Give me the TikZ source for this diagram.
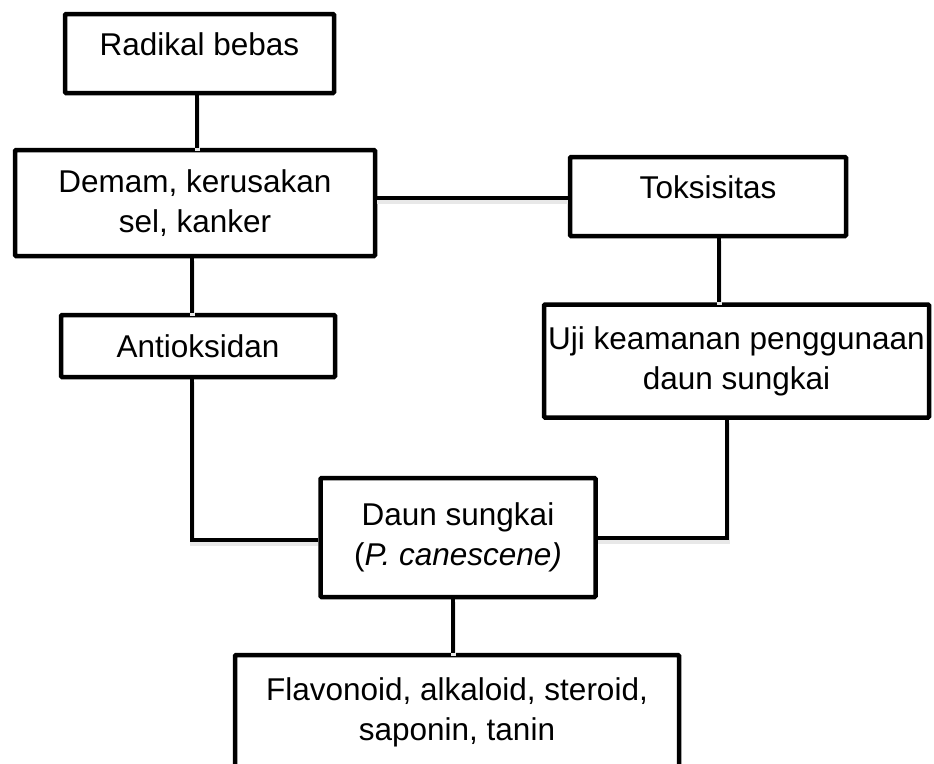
\documentclass[tikz,border=0pt]{standalone}
\usepackage{fontspec}
\setmainfont{Liberation Sans}
\begin{document}
\begin{tikzpicture}[x=1pt, y=-1pt,
   every node/.style={draw, line width=4.5pt, rounded corners=1pt, align=center,
                      inner sep=0pt, font=\fontsize{31.5}{40}\selectfont},
   link/.style={line width=4.5pt,
                preaction={draw=black!9, line width=5pt, transform canvas={yshift=-3pt}}}]

\useasboundingbox (0,0) rectangle (934,763);
\clip (0,0) rectangle (934,763);

\node[minimum width=269pt, minimum height=79pt, text depth=19pt] (radikal) at (199.5,53.5) {Radikal bebas};
\node[minimum width=360pt, minimum height=106pt] (demam) at (195,203) {Demam, kerusakan\\sel, kanker};
\node[minimum width=276pt, minimum height=79pt, text depth=19pt] (toks) at (708,196.5) {Toksisitas};
\node[minimum width=274pt, minimum height=62pt] (anti) at (198,346) {Antioksidan};
\node[minimum width=385pt, minimum height=113pt] (uji) at (736.5,361) {Uji keamanan penggunaan\\daun sungkai};
\node[minimum width=275pt, minimum height=119pt] (daun) at (458,537.5) {Daun sungkai\\({\itshape P. canescene)}};
\node[minimum width=444pt, minimum height=114pt] (flav) at (457,712) {Flavonoid, alkaloid, steroid,\\saponin, tanin};

\draw[link] (radikal.south -| 197,0) -- (demam.north -| 197,0);
\draw[link] (demam.east |- 0,198) -- (toks.west |- 0,198);
\draw[link] (demam.south -| 192,0) -- (anti.north -| 192,0);
\draw[link] (toks.south -| 719,0) -- (uji.north -| 719,0);
\draw[link] (anti.south -| 192,0) |- (daun.west |- 0,540);
\draw[link] (uji.south -| 727,0) |- (daun.east |- 0,538);
\draw[link] (daun.south -| 453,0) -- (flav.north -| 453,0);

\end{tikzpicture}
\end{document}
